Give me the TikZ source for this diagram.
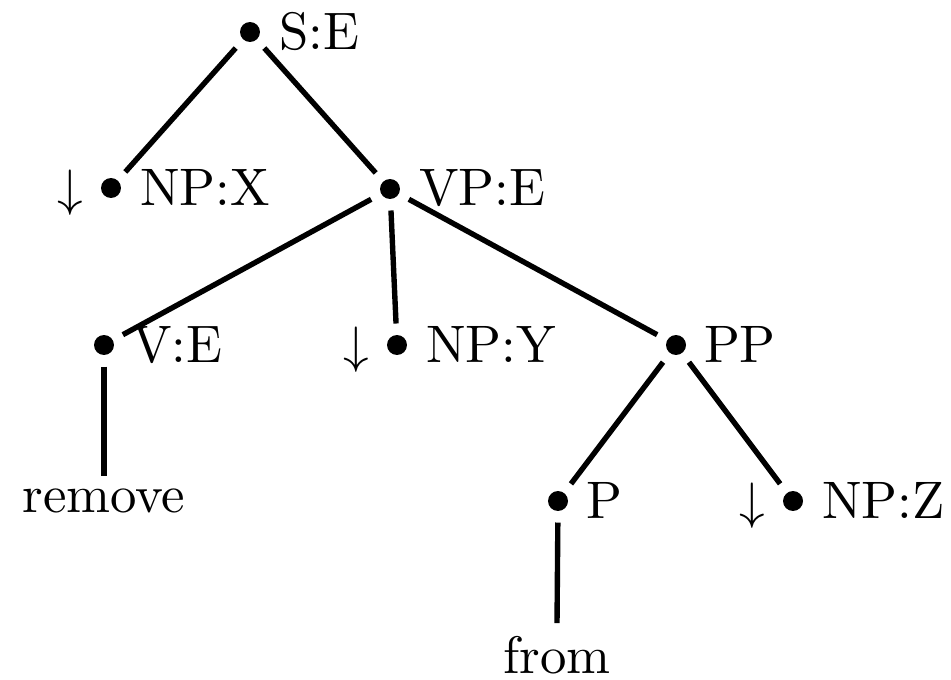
\documentclass[tikz,border=0pt]{standalone}
\begin{document}
\begin{tikzpicture}[x=0.1953pt,y=-0.1953pt,
  every node/.style={font=\fontsize{10.3pt}{12.4pt}\selectfont},
  dotnode/.style={circle,inner sep=0pt,minimum size=8pt,
    path picture={\fill (path picture bounding box.center) circle (1.95pt);}},
  lbl/.style={anchor=base west,inner sep=0pt},
  arr/.style={anchor=base,inner sep=0pt},
  word/.style={anchor=base,inner sep=2.3pt},
  branch/.style={line width=1.05pt}]
\useasboundingbox (0,0) rectangle (951,679);
% dots
\node[dotnode] (s) at (250,32) {};
\node[dotnode] (npx) at (111,188) {};
\node[dotnode] (vp) at (390,189) {};
\node[dotnode] (v) at (104,345) {};
\node[dotnode] (npy) at (397,345) {};
\node[dotnode] (pp) at (676,345) {};
\node[dotnode] (p) at (558,501) {};
\node[dotnode] (npz) at (793,501) {};
% labels
\node[lbl] (sl) at (278,50) {S:E};
\node[lbl] (npxl) at (139,205) {NP:X};
\node[arr] (npxa) at (70,205) {$\downarrow$};
\node[lbl] (vpl) at (418,206) {VP:E};
\node[lbl] (vl) at (131,362) {V:E};
\node[lbl] (npyl) at (425,362) {NP:Y};
\node[arr] (npya) at (356,362) {$\downarrow$};
\node[lbl] (ppl) at (703,362) {PP};
\node[lbl] (pl) at (585,518) {P};
\node[lbl] (npzl) at (821,518) {NP:Z};
\node[arr] (npza) at (752,518) {$\downarrow$};
\node[word] (remove) at (104,512) {remove};
\node[word] (from) at (557,673) {from};
% branches
\draw[branch] (s) -- (npx);
\draw[branch] (s) -- (vp);
\draw[branch] (vp) -- (v);
\draw[branch] (vp) -- (npy);
\draw[branch] (vp) -- (pp);
\draw[branch] (pp) -- (p);
\draw[branch] (pp) -- (npz);
\draw[branch] (v) -- (remove.north);
\draw[branch] (p) -- (from.north);
\end{tikzpicture}
\end{document}
